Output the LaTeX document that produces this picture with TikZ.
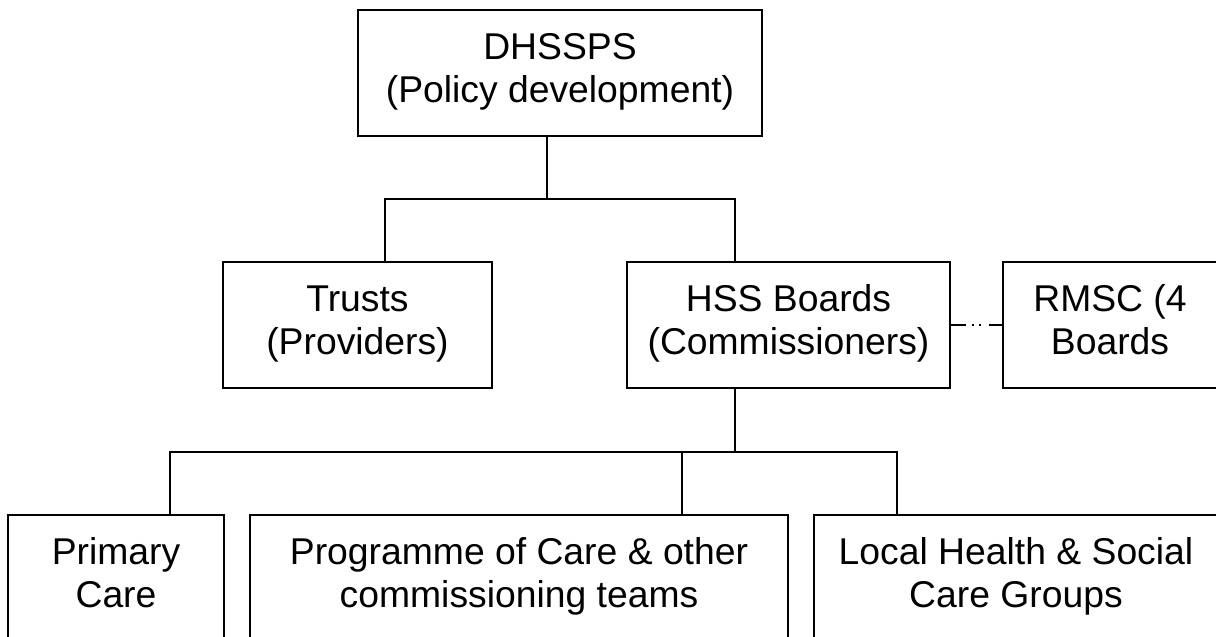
\documentclass[tikz,border=0pt]{standalone}
\usepackage{fontspec}
\setmainfont{Liberation Sans}
% fixed first-line height and last-line depth so every box sets its text alike
\newcommand\hgtfix{\rule{0pt}{27pt}}
\newcommand\dptfix{\rule[-12pt]{0pt}{12pt}}
\begin{document}
\begin{tikzpicture}[x=1pt,y=-1pt,
  orgbox/.style={draw=black, line width=1.8pt, rectangle, align=center,
    inner sep=0pt, minimum height=126pt,
    font=\fontsize{37.3}{43}\selectfont},
  link/.style={line width=1.5pt, black},
  dotlink/.style={line width=1.3pt, black,
    dash pattern=on 15pt off 6pt on 2pt off 5pt on 2pt off 8pt on 15pt}]
\useasboundingbox (0,0) rectangle (1216,637);
\clip (0,0) rectangle (1216,637);

% top level
\node[orgbox, minimum width=404pt] (dh) at (560,73)
  {\hgtfix DHSSPS\\(Policy development)\dptfix};

% second level
\node[orgbox, minimum width=269pt] (tr) at (357.5,325)
  {\hgtfix Trusts\\(Providers)\dptfix};
\node[orgbox, minimum width=323pt] (hss) at (788.5,325)
  {\hgtfix HSS Boards\\(Commissioners)\dptfix};
\node[orgbox, minimum width=214pt] (rm) at (1110,325)
  {\hgtfix RMSC (4\\Boards\dptfix};

% third level
\node[orgbox, minimum width=216pt] (pc) at (116,578)
  {\hgtfix Primary\\Care\dptfix};
\node[orgbox, minimum width=538pt] (pg) at (519,578)
  {\hgtfix Programme of Care \& other\\commissioning teams\dptfix};
\node[orgbox, minimum width=404pt] (lh) at (1016,578)
  {\hgtfix Local Health \& Social\\Care Groups\dptfix};

% branch points
\coordinate (j1) at (547,199);
\coordinate (b1) at (385,199);
\coordinate (b2) at (735,199);
\coordinate (j2) at (735,452);
\coordinate (c1) at (170,452);
\coordinate (c2) at (682,452);
\coordinate (c3) at (897,452);

% DHSSPS to Trusts and HSS Boards
\draw[link] (j1 |- dh.south) -- (j1);
\draw[link] (b1 |- tr.north) -- (b1) -- (b2) -- (b2 |- hss.north);

% HSS Boards to RMSC
\draw[dotlink] (hss.east) -- (rm.west);

% HSS Boards to the three groups
\draw[link] (j2 |- hss.south) -- (j2);
\draw[link] (c1 |- pc.north) -- (c1) -- (c3) -- (c3 |- lh.north);
\draw[link] (c2) -- (c2 |- pg.north);
\end{tikzpicture}
\end{document}
